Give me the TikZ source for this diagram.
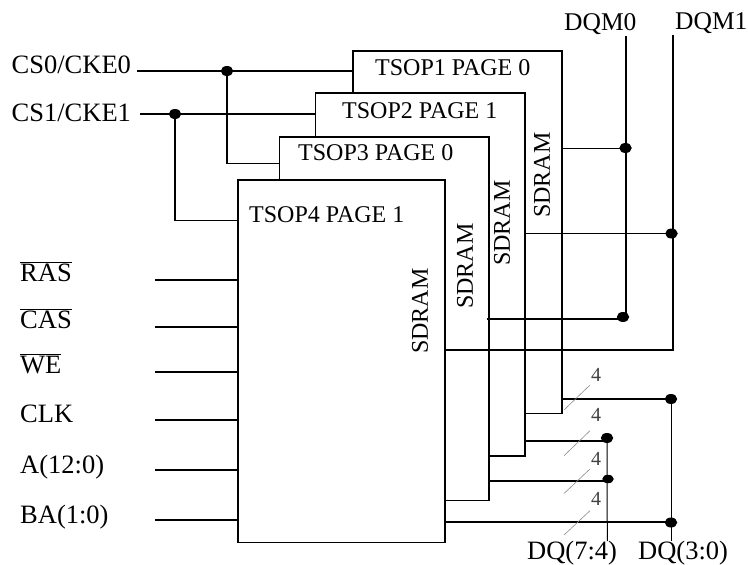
\documentclass[tikz,border=0pt]{standalone}
\usepackage{fontspec}
\setmainfont{Liberation Serif}
\usetikzlibrary{shapes.geometric}
\begin{document}
\begin{tikzpicture}[x=1pt,y=-1pt,font=\fontsize{26.5}{30}\selectfont,
 heavy/.style={line width=1.9pt},
 thin wire/.style={line width=1pt},
 chip/.style={heavy,line cap=rect},
 lbl/.style={anchor=base west,inner sep=0pt},
 masklbl/.style={lbl,font=\fontsize{25.5}{30}\selectfont},
 chiplbl/.style={lbl,font=\fontsize{24}{28}\selectfont},
 sdram/.style={inner sep=0pt,rotate=90,font=\fontsize{24}{28}\selectfont},
 buswidth/.style={inner sep=0pt,text=black!75,font=\fontsize{20}{24}\selectfont},
 slash/.style={line width=0.6pt,black!45},
 dot/.style={ellipse,fill=black,inner sep=0pt,minimum width=12.5pt,minimum height=10pt}]
\useasboundingbox (0,0) rectangle (748,565);
% stacked chips
\coordinate (chipAnw) at (353,51);
\coordinate (chipAse) at (562,413.5);
\coordinate (chipBnw) at (315.5,93);
\coordinate (chipBse) at (525,456);
\coordinate (chipCnw) at (279.5,137);
\coordinate (chipCse) at (489,500.5);
\node[chip,draw,anchor=north west,outer sep=0pt,minimum width=207pt,minimum height=362.5pt] (chipD) at (238,180) {};
\draw[chip] (chipAnw |- chipBnw) -- (chipAnw) -| (chipAse) -- (chipAse -| chipBse);
\draw[chip] (chipBnw |- chipCnw) -- (chipBnw) -| (chipBse) -- (chipBse -| chipCse);
\draw[chip] (chipCnw |- chipD.north) -- (chipCnw) -| (chipCse) -- (chipCse -| chipD.east);
\node[chiplbl] (nameA) at (375,75.5) {TSOP1 PAGE 0};
\node[chiplbl] (nameB) at (342,118) {TSOP2 PAGE 1};
\node[chiplbl] (nameC) at (298,160.5) {TSOP3 PAGE 0};
\node[chiplbl] (nameD) at (249,222.5) {TSOP4 PAGE 1};
\node[sdram] (typeA) at (542,175) {SDRAM};
\node[sdram] (typeB) at (502,223) {SDRAM};
\node[sdram] (typeC) at (465,266) {SDRAM};
\node[sdram] (typeD) at (420,311) {SDRAM};
% chip selects
\node[lbl] (csA) at (11.5,73) {CS0/CKE0};
\node[lbl] (csB) at (11.5,121.5) {CS1/CKE1};
\coordinate (csAin) at (137,71);
\coordinate (csBin) at (140,114);
\node[dot] (csAdot) at (227,71) {};
\node[dot] (csBdot) at (175,114) {};
\draw[heavy] (csAin) -- (csAin -| chipAnw);
\draw[heavy] (csBin) -- (csBin -| chipBnw);
\coordinate (csAdrop) at (227,163.5);
\coordinate (csBdrop) at (174,220.5);
\draw[heavy] (csAdot) -- (csAdrop) -- (csAdrop -| chipCnw);
\draw[heavy] (csBdot.center |- csBdrop) -- (csBdrop -| chipD.west);
\draw[heavy] (csBdot) -- (csBdot.center |- csBdrop);
% inputs
\node[lbl] (inRAS) at (20,281.5) {$\overline{\mbox{RAS}}$};
\node[lbl] (inCAS) at (20,328.5) {$\overline{\mbox{CAS}}$};
\node[lbl] (inWE) at (20,373) {$\overline{\mbox{WE}}$};
\node[lbl] (inCLK) at (20,422.5) {CLK};
\node[lbl] (inA) at (20,473) {A(12:0)};
\node[lbl] (inBA) at (20,523) {BA(1:0)};
\coordinate (wRAS) at (155,280);
\coordinate (wCAS) at (155,326.7);
\coordinate (wWE) at (155,371.7);
\coordinate (wCLK) at (155,420);
\coordinate (wA) at (155,470);
\coordinate (wBA) at (155,520);
\draw[heavy] (wRAS) -- (wRAS -| chipD.west);
\draw[heavy] (wCAS) -- (wCAS -| chipD.west);
\draw[heavy] (wWE) -- (wWE -| chipD.west);
\draw[heavy] (wCLK) -- (wCLK -| chipD.west);
\draw[heavy] (wA) -- (wA -| chipD.west);
\draw[heavy] (wBA) -- (wBA -| chipD.west);
% byte masks
\node[masklbl] (dqmA) at (564,30) {DQM0};
\node[masklbl] (dqmB) at (675,29) {DQM1};
\coordinate (dqmAtop) at (625.7,36);
\coordinate (dqmBtop) at (672.7,35);
\coordinate (dqmAend) at (625.7,317);
\coordinate (dqmBend) at (672.7,350);
\node[dot] (maskA) at (625.5,148) {};
\node[dot] (maskB) at (671.5,233.5) {};
\node[dot] (maskC) at (623,317) {};
\draw[heavy] (dqmAtop) -- (dqmAend);
\draw[heavy] (dqmBtop) -- (dqmBend) -- (dqmBend -| chipD.east);
\draw[thin wire] (maskA.center -| chipAse) -- (maskA.center);
\draw[thin wire] (maskB.center -| chipBse) -- (maskB.center);
\coordinate (maskCin) at (487,319);
\draw[heavy] (maskCin) -- (maskCin -| maskC.center);
% data
\node[lbl] (dqHi) at (527,559) {DQ(7:4)};
\node[lbl] (dqLo) at (638,559) {DQ(3:0)};
\node[dot] (loA) at (671,399) {};
\node[dot] (hiA) at (607,438) {};
\node[dot,minimum width=11.5pt,minimum height=8.5pt] (hiB) at (608,479) {};
\node[dot] (loB) at (671,522.5) {};
\coordinate (hiBus) at (607.3,541);
\coordinate (loBus) at (671,541);
\draw[thin wire] (loA.center) -- (loBus);
\draw[thin wire] (hiA.center) -- (hiBus);
\coordinate (loAin) at (562,399);
\coordinate (hiAin) at (525,440.7);
\coordinate (hiBin) at (489,480.7);
\coordinate (loBin) at (445,521.7);
\draw[heavy] (loAin) -- (loAin -| loA.center);
\draw[heavy] (hiAin) -- (hiAin -| hiA.center);
\draw[heavy] (hiBin) -- (hiBin -| hiB.center);
\draw[heavy] (loBin) -- (loBin -| loB.center);
\draw[slash] (564,410) -- (590,385);
\draw[slash] (564,455.7) -- (590,430.7);
\draw[slash] (564,493.5) -- (590,469);
\draw[slash] (564,535) -- (590,510.7);
\node[buswidth] (widthA) at (596,375) {4};
\node[buswidth] (widthB) at (596,415) {4};
\node[buswidth] (widthC) at (596,459) {4};
\node[buswidth] (widthD) at (596,499) {4};
\end{tikzpicture}
\end{document}
